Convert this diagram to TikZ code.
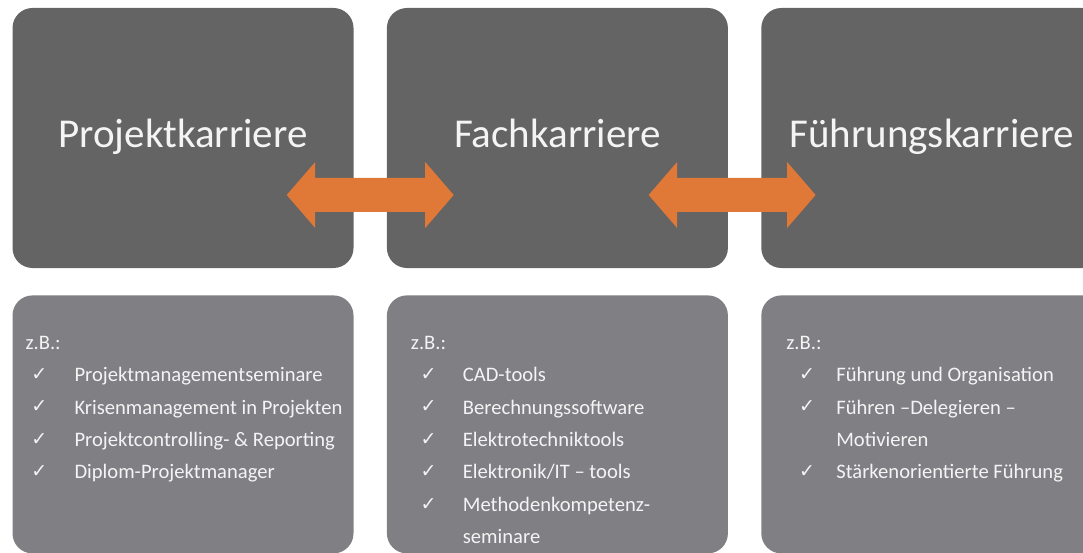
\documentclass[tikz,border=0pt]{standalone}
\usepackage{fontspec}
\setmainfont{Carlito}
\newfontfamily\checkfont{DejaVu Sans}
\usetikzlibrary{positioning,calc}

\definecolor{topgray}{HTML}{646464}
\definecolor{listgray}{HTML}{807F84}
\definecolor{arroworange}{HTML}{E07838}
\definecolor{textwhite}{HTML}{F4F4F4}

\tikzset{
  topbox/.style={fill=topgray, rounded corners=20pt, inner sep=0pt,
    minimum width=341pt, minimum height=260pt, text=textwhite,
    text height=29pt, text depth=10pt, font=\fontsize{41}{49}\selectfont},
  listbox/.style={fill=listgray, rounded corners=20pt, inner sep=0pt,
    minimum width=341pt, minimum height=258pt},
  item/.style={anchor=base west, inner sep=0pt, text=textwhite,
    font=\fontsize{20.6}{25}\selectfont},
  tick/.style={anchor=center, inner sep=0pt, text=textwhite,
    font=\checkfont\fontsize{19}{22}\selectfont},
  orangearrow/.style={fill=arroworange}
}

\begin{document}
\begin{tikzpicture}[x=1pt,y=-1pt]
  \useasboundingbox (0,0) rectangle (1083,553);
  \clip (0,0) rectangle (1083,553);

  % career boxes
  \node[topbox] (projekt) at (183,138) {Projektkarriere};
  \node[topbox, right=33pt of projekt] (fach) {Fachkarriere};
  \node[topbox, right=33pt of fach] (fuehrung) {Führungskarriere};

  \node[listbox, below=27pt of projekt] (projektlist) {};
  \node[listbox, below=27pt of fach] (fachlist) {};
  \node[listbox, below=27pt of fuehrung] (fuehrunglist) {};

  % double arrows between the careers
  \foreach \a/\b/\dx in {projekt/fach/0, fach/fuehrung/-12.5} {
    \coordinate (m) at ($(\a.east)!0.5!(\b.west)+(\dx,57)$);
    \fill[orangearrow] ($(m)+(-83.5,0)$) -- ($(m)+(-55,-33)$) -- ($(m)+(-55,-17)$)
      -- ($(m)+(55,-17)$) -- ($(m)+(55,-33)$) -- ($(m)+(83.5,0)$)
      -- ($(m)+(55,33)$) -- ($(m)+(55,17)$) -- ($(m)+(-55,17)$)
      -- ($(m)+(-55,33)$) -- cycle;
  }

  % examples
  \node[item] at ($(projektlist.north west)+(13,54)$) {z.B.:};
  \foreach \c/\txt [count=\i] in {1/Projektmanagementseminare,
      1/Krisenmanagement in Projekten, 1/Projektcontrolling- \& Reporting,
      1/Diplom-Projektmanager} {
    \ifnum\c=1 \node[tick] at ($(projektlist.north west)+(27,47+32.4*\i)$) {✓}; \fi
    \node[item] at ($(projektlist.north west)+(62,54+32.4*\i)$) {\txt};
  }

  \node[item] at ($(fachlist.north west)+(24,54)$) {z.B.:};
  \foreach \c/\txt [count=\i] in {1/CAD-tools, 1/Berechnungssoftware,
      1/Elektrotechniktools, 1/{Elektronik/IT – tools},
      1/Methodenkompetenz-, 0/seminare} {
    \ifnum\c=1 \node[tick] at ($(fachlist.north west)+(42,47+32.4*\i)$) {✓}; \fi
    \node[item] at ($(fachlist.north west)+(76,54+32.4*\i)$) {\txt};
  }

  \node[item] at ($(fuehrunglist.north west)+(25,54)$) {z.B.:};
  \foreach \c/\txt [count=\i] in {1/Führung und Organisation,
      1/Führen –Delegieren –, 0/Motivieren,
      1/Stärkenorientierte Führung} {
    \ifnum\c=1 \node[tick] at ($(fuehrunglist.north west)+(46,47+32.4*\i)$) {✓}; \fi
    \node[item] at ($(fuehrunglist.north west)+(75,54+32.4*\i)$) {\txt};
  }
\end{tikzpicture}
\end{document}
